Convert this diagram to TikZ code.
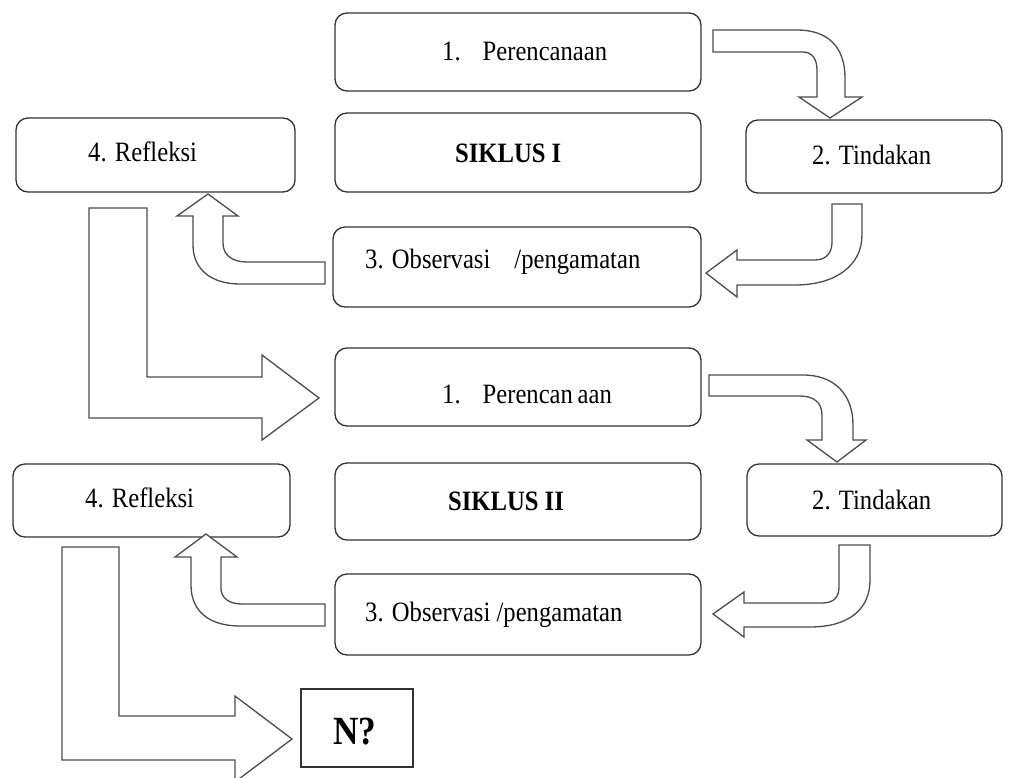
\documentclass[tikz,border=0pt]{standalone}
\usepackage{fontspec}
\setmainfont{Liberation Serif}[FakeStretch=0.88]
\begin{document}
\begin{tikzpicture}[x=1pt,y=-1pt,
  box/.style={draw=black!80,line width=1.3pt,rounded corners=12pt,inner sep=0pt},
  sqbox/.style={draw=black!80,line width=1.3pt,inner sep=0pt},
  blockarrow/.style={draw=black!70,line width=1.3pt,fill=white,line join=miter},
  txt/.style={inner sep=0pt,anchor=base west,font=\fontsize{28}{33}\selectfont},
  btxt/.style={inner sep=0pt,anchor=base west,font=\fontsize{28}{33}\selectfont\bfseries}]
\clip (0,0) rectangle (1014,778);
\useasboundingbox (0,0) rectangle (1014,778);
% boxes
\node[box,minimum width=366pt,minimum height=78pt] (p1) at (518,52) {};
\node[box,minimum width=366pt,minimum height=79pt] (s1) at (518,152.5) {};
\node[box,minimum width=279pt,minimum height=74pt] (r1) at (155.5,155) {};
\node[box,minimum width=256pt,minimum height=73pt] (t1) at (874,156.5) {};
\node[box,minimum width=368pt,minimum height=80pt] (o1) at (517,267) {};
\node[box,minimum width=366pt,minimum height=78pt] (p2) at (518,387) {};
\node[box,minimum width=366pt,minimum height=77pt] (s2) at (518,501.5) {};
\node[box,minimum width=277pt,minimum height=73pt] (r2) at (151.5,500.5) {};
\node[box,minimum width=255pt,minimum height=72pt] (t2) at (874.5,500) {};
\node[box,minimum width=366pt,minimum height=81pt] (o2) at (518,614.5) {};
\node[sqbox,minimum width=112pt,minimum height=78pt] (n) at (357,728) {};
% texts
\node[txt] (tp1) at (442,61) {1.\hspace{22pt}Perencanaan};
\node[btxt] (ts1) at (455,163) {SIKLUS I};
\node[txt] (tt1) at (812,165) {2. Tindakan};
\node[txt] (tr1) at (88,162) {4. Refleksi};
\node[txt] (to1) at (365,268) {3. Observasi\hspace{24pt}/pengamatan};
\node[txt] (tp2) at (442,403) {1.\hspace{22pt}Perencan\,aan};
\node[btxt] (ts2) at (448,510) {SIKLUS II};
\node[txt] (tt2) at (812,509) {2. Tindakan};
\node[txt] (tr2) at (85,507) {4. Refleksi};
\node[txt] (to2) at (365,621) {3. Observasi /pengamatan};
\node[inner sep=0pt,anchor=base west,font=\fontsize{40}{44}\selectfont\bfseries] (tn) at (333,744) {N?};
% block arrows
\draw[blockarrow] (713,30) -- (797,30) .. controls (828,30) and (845,47) .. (845,78) -- (845,97) -- (862,97) -- (830,118) -- (799,97) -- (817,97) -- (817,70) .. controls (817,59) and (812,52) .. (803,52) -- (713,52) -- cycle;
\draw[blockarrow] (832,204) -- (862,204) -- (862,235) .. controls (862,266) and (835,285) .. (795,285) -- (737,285) -- (737,297) -- (706,273) -- (737,250) -- (737,260) -- (815,260) .. controls (826,260) and (832,253) .. (832,242) -- cycle;
\draw[blockarrow] (325,262) -- (247,262) .. controls (232,262) and (223,255) .. (223,243) -- (223,216) -- (238,216) -- (208,194) -- (177,216) -- (193,216) -- (193,245) .. controls (193,270) and (212,284) .. (240,284) -- (325,284) -- cycle;
\draw[blockarrow] (89,208) -- (147,208) -- (147,377) -- (262,377) -- (262,355) -- (319,398) -- (262,440) -- (262,418) -- (89,418) -- cycle;
\draw[blockarrow] (709,375) -- (803,375) .. controls (835,375) and (853,395) .. (853,425) -- (853,440) -- (866,440) -- (837,462) -- (807,440) -- (822,440) -- (822,415) .. controls (822,402) and (813,396) .. (800,396) -- (709,396) -- cycle;
\draw[blockarrow] (839,545) -- (870,545) -- (870,580) .. controls (870,610) and (848,627) .. (810,627) -- (744,627) -- (744,637) -- (713,614) -- (744,592) -- (744,603) -- (822,603) .. controls (834,603) and (839,597) .. (839,587) -- cycle;
\draw[blockarrow] (325,604) -- (242,604) .. controls (229,604) and (221,598) .. (221,588) -- (221,557) -- (237,557) -- (206,534) -- (175,557) -- (191,557) -- (191,585) .. controls (191,612) and (210,626) .. (240,626) -- (325,626) -- cycle;
\draw[blockarrow] (62,547) -- (119,547) -- (119,716) -- (235,716) -- (235,696) -- (292,739) -- (235,782) -- (235,760) -- (62,760) -- cycle;
\end{tikzpicture}
\end{document}
